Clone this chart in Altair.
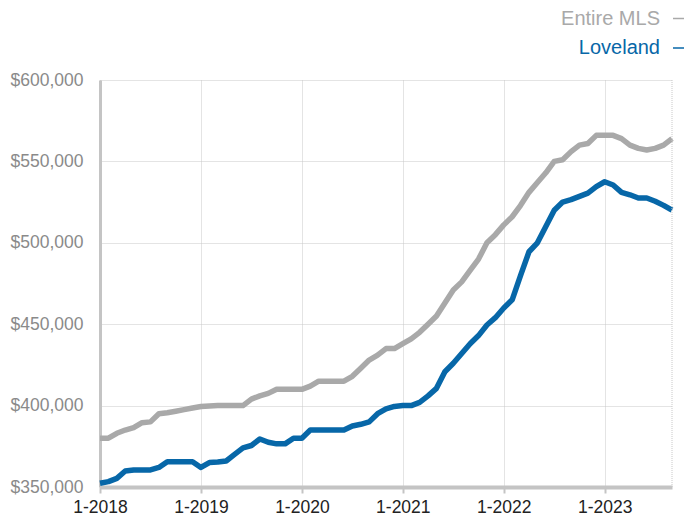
import altair as alt
import pandas as pd

# month labels, 1-2018 .. 9-2023
months = [f"{m}-{y}" for y in range(2018, 2024) for m in range(1, 13)][:69]

entire_mls = [
    380, 380, 383, 385, 386.5, 389.5, 390, 395, 395.6, 396.5, 397.5, 398.5,
    399.4, 399.7, 400, 400, 400, 400, 404, 406, 407.5, 410, 410, 410,
    410, 412, 415, 415, 415, 415, 418, 423, 428, 431, 435, 435,
    438, 441, 445, 450, 455, 463, 471, 476, 483, 490, 500, 505,
    511, 516, 523, 531, 537, 543, 550, 551, 556, 560, 561, 566,
    566, 566, 564, 560, 558, 557, 558, 560, 564,
]
loveland = [
    352.3, 353.3, 355.3, 359.8, 360.5, 360.5, 360.5, 362, 365.5, 365.5, 365.5, 365.5,
    362, 365, 365.3, 366, 370, 374, 375.5, 379.5, 377.5, 376.5, 376.5, 380,
    380, 385, 385, 385, 385, 385, 387.5, 388.5, 390, 395, 398, 399.5,
    400, 400, 402, 406, 410.6, 420.8, 426, 432, 438, 443, 449.5, 454,
    460, 465, 480, 494.5, 500, 510, 520, 525, 526.5, 528.5, 530.5, 534.5,
    537.5, 535.5, 531, 529.5, 527.5, 527.5, 525.5, 523, 520,
]

series_names = ["Entire MLS", "Loveland"]
series_colors = ["#a9a9a9", "#0767a8"]

rows = []
for name, vals in zip(series_names, [entire_mls, loveland]):
    for i, (m, v) in enumerate(zip(months, vals)):
        rows.append({"i": i, "month": m, "series": name, "value": v * 1000})
df = pd.DataFrame(rows)

FONT = "Liberation Sans"
last = len(months) - 1

x_enc = alt.X(
    "i:Q",
    scale=alt.Scale(domain=[0, last], nice=False, zero=False),
    axis=alt.Axis(
        values=[0, 12, 24, 36, 48, 60],
        labelExpr="'1-' + (2018 + floor(datum.value / 12))",
        title=None,
        grid=True,
        gridColor="#c8c8c8",
        gridDash=[1, 1],
        gridWidth=1,
        domainColor="#c4c4c4",
        domainWidth=4,
        tickColor="#c4c4c4",
        tickWidth=2,
        tickSize=6,
        labelPadding=5,
        labelFlush=False,
        labelColor="#222222",
        labelFont=FONT,
        labelFontSize=17.5,
    ),
)
y_enc = alt.Y(
    "value:Q",
    scale=alt.Scale(domain=[350000, 600000], nice=False, zero=False),
    axis=alt.Axis(
        values=[350000, 400000, 450000, 500000, 550000, 600000],
        format="$,.0f",
        title=None,
        grid=True,
        gridColor="#c8c8c8",
        gridDash=[1, 1],
        gridWidth=1,
        domainColor="#c4c4c4",
        domainWidth=3,
        ticks=False,
        labelPadding=17,
        labelFlush=False,
        labelColor="#8a8a8a",
        labelFont=FONT,
        labelFontSize=17.5,
    ),
)

lines = alt.Chart(df).mark_line(strokeWidth=5.5, strokeJoin="round", strokeCap="butt").encode(
    x=x_enc,
    y=y_enc,
    color=alt.Color("series:N", scale=alt.Scale(domain=series_names, range=series_colors), legend=None),
    detail="series:N",
)

edge = alt.Chart(pd.DataFrame({"i": [last]})).mark_rule(
    color="#c8c8c8", strokeDash=[1, 1], strokeWidth=1
).encode(x="i:Q")

layers = [lines, edge]
for name, col, yy in zip(series_names, series_colors, [-61.5, -32]):
    layers.append(
        alt.Chart(pd.DataFrame({"t": [name]})).mark_text(
            align="right", baseline="middle", font=FONT, fontSize=20, color=col
        ).encode(x=alt.value(560), y=alt.value(yy), text="t:N")
    )
    layers.append(
        alt.Chart(pd.DataFrame({"t": [name]})).mark_rule(color=col, strokeWidth=1.5).encode(
            x=alt.value(573), x2=alt.value(584), y=alt.value(yy)
        )
    )

chart = alt.layer(*layers).properties(
    width=572,
    height=407,
    autosize=alt.AutoSizeParams(type="none"),
    padding={"left": 92, "top": 72, "right": 12, "bottom": 28},
).configure_view(stroke=None)

chart.save("out.html", embed_options={"renderer": "svg", "actions": False})
